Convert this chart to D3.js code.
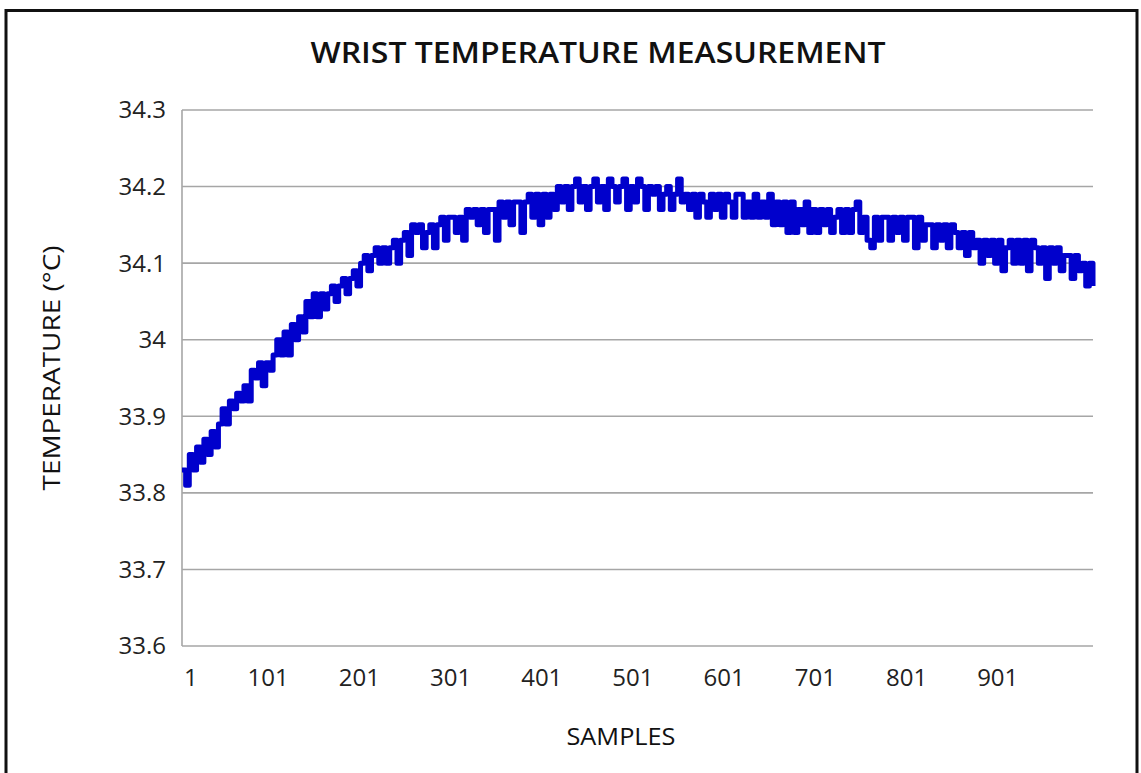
<!DOCTYPE html>
<html>
<head>
<meta charset="utf-8">
<script src="https://cdn.jsdelivr.net/npm/d3@7"></script>
<style>
body{margin:0;background:#fff;}
svg{display:block;}
</style>
</head>
<body>
<script>
var width=1141;
var height=773;
var margin={top:110,right:48,bottom:127,left:182};

// temperature readings, one every ~4 samples
var temps=[
33.83,33.81,33.85,33.83,33.86,33.84,33.87,33.85,33.88,33.86,
33.89,33.91,33.89,33.92,33.91,33.93,33.92,33.94,33.92,33.96,
33.95,33.97,33.94,33.97,33.96,33.98,34.00,33.98,34.01,33.98,
34.02,34.00,34.03,34.01,34.05,34.03,34.06,34.03,34.06,34.04,
34.06,34.07,34.05,34.07,34.08,34.06,34.08,34.09,34.07,34.10,
34.11,34.09,34.11,34.12,34.10,34.12,34.10,34.12,34.13,34.10,
34.13,34.14,34.11,34.15,34.14,34.15,34.12,34.14,34.15,34.12,
34.15,34.16,34.13,34.16,34.16,34.14,34.16,34.13,34.17,34.16,
34.17,34.15,34.17,34.14,34.17,34.17,34.13,34.18,34.16,34.18,
34.15,34.18,34.18,34.14,34.18,34.19,34.16,34.19,34.15,34.19,
34.16,34.19,34.17,34.20,34.18,34.20,34.17,34.20,34.21,34.18,
34.20,34.17,34.20,34.21,34.18,34.20,34.17,34.21,34.20,34.18,
34.20,34.21,34.17,34.20,34.18,34.21,34.20,34.17,34.20,34.19,
34.20,34.17,34.19,34.20,34.17,34.19,34.21,34.18,34.19,34.17,
34.19,34.16,34.19,34.18,34.16,34.19,34.17,34.19,34.16,34.19,
34.18,34.16,34.19,34.19,34.16,34.18,34.16,34.19,34.16,34.18,
34.16,34.19,34.15,34.18,34.15,34.18,34.14,34.18,34.14,34.17,
34.15,34.18,34.14,34.17,34.14,34.17,34.15,34.17,34.14,34.16,
34.17,34.14,34.17,34.14,34.17,34.18,34.14,34.16,34.13,34.12,
34.16,34.13,34.16,34.16,34.13,34.16,34.14,34.16,34.13,34.16,
34.16,34.12,34.16,34.13,34.15,34.15,34.12,34.15,34.13,34.15,
34.12,34.15,34.14,34.12,34.14,34.11,34.14,34.12,34.13,34.10,
34.13,34.11,34.13,34.10,34.13,34.09,34.12,34.13,34.10,34.13,
34.10,34.13,34.09,34.13,34.12,34.10,34.12,34.08,34.12,34.10,
34.12,34.09,34.11,34.11,34.08,34.11,34.09,34.10,34.07,34.10,
34.07
];
var firstSample=1;
var lastSample=1000;
var yTicks=[33.6,33.7,33.8,33.9,34,34.1,34.2,34.3];
var sampleTicks=[1,101,201,301,401,501,601,701,801,901];

var svg=d3.select("body").append("svg").attr("width",width).attr("height",height);

// outer frame
svg.append("rect")
    .attr("x",6).attr("y",10.5)
    .attr("width",1131).attr("height",800)
    .attr("fill","none").attr("stroke","#111").attr("stroke-width",3);

var x=d3.scaleLinear().domain([firstSample,lastSample]).range([margin.left,width-margin.right]);
var y=d3.scaleLinear().domain([33.6,34.3]).range([height-margin.bottom,margin.top]);

// gridlines
svg.append("g").selectAll("line").data(yTicks).enter().append("line")
    .attr("x1",margin.left).attr("x2",width-margin.right)
    .attr("y1",function(d){return y(d);})
    .attr("y2",function(d){return y(d);})
    .attr("stroke","#a6a6a6").attr("stroke-width",1.6);

svg.append("line")
    .attr("x1",margin.left).attr("x2",margin.left)
    .attr("y1",margin.top).attr("y2",height-margin.bottom)
    .attr("stroke","#a6a6a6").attr("stroke-width",1.6);

// y tick labels
svg.append("g").selectAll("text").data(yTicks).enter().append("text")
    .attr("x",margin.left-16)
    .attr("y",function(d){return y(d);})
    .attr("dy","0.35em")
    .attr("text-anchor","end")
    .attr("font-family","Open Sans")
    .attr("font-size","24px")
    .attr("fill","#222")
    .text(function(d){return d3.format("")(+d.toFixed(1));});

// x tick labels
svg.append("g").selectAll("text").data(sampleTicks).enter().append("text")
    .attr("x",function(d,i){return i==0?x(d)+2:x(d)-5;})
    .attr("y",height-margin.bottom+40)
    .attr("text-anchor",function(d,i){return i==0?"start":"middle";})
    .attr("font-family","Open Sans")
    .attr("font-size","24px")
    .attr("fill","#222")
    .text(function(d){return d;});

// trace
var line=d3.line()
    .x(function(d,i){return x(firstSample+i*(lastSample-firstSample)/(temps.length-1));})
    .y(function(d){return y(d);})
    .curve(d3.curveStepAfter);

svg.append("path")
    .datum(temps)
    .attr("d",line)
    .attr("fill","none")
    .attr("stroke","#0000cc")
    .attr("stroke-width",5)
    .attr("stroke-linejoin","round");

// titles
svg.append("text")
    .attr("x",598).attr("y",63)
    .attr("text-anchor","middle")
    .attr("font-family","Open Sans")
    .attr("font-weight",600)
    .attr("font-size","29px")
    .attr("textLength",575)
    .attr("lengthAdjust","spacingAndGlyphs")
    .attr("fill","#111")
    .text("WRIST TEMPERATURE MEASUREMENT");

svg.append("text")
    .attr("x",621).attr("y",745)
    .attr("text-anchor","middle")
    .attr("font-family","Open Sans")
    .attr("font-size","24px")
    .attr("textLength",109)
    .attr("lengthAdjust","spacingAndGlyphs")
    .attr("fill","#111")
    .text("SAMPLES");

svg.append("text")
    .attr("transform","translate(60,368) rotate(-90)")
    .attr("text-anchor","middle")
    .attr("font-family","Open Sans")
    .attr("font-size","24px")
    .attr("textLength",245)
    .attr("lengthAdjust","spacingAndGlyphs")
    .attr("fill","#111")
    .text("TEMPERATURE (°C)");
</script>
</body>
</html>
